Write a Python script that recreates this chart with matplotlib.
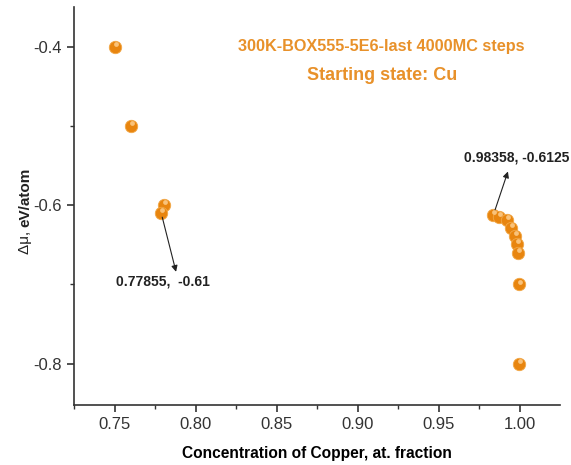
import numpy as np
import matplotlib.pyplot as plt
from matplotlib.ticker import MultipleLocator

plt.rcParams['font.family'] = ['Liberation Sans', 'DejaVu Sans']

# copper fraction vs chemical potential difference
x_cu = [0.75, 0.76, 0.7804, 0.77855,
        0.98358, 0.9873, 0.9922, 0.9948, 0.9968, 0.9980, 0.9987, 0.9993, 0.9993]
d_mu = [-0.40, -0.50, -0.60, -0.61,
        -0.6125, -0.615, -0.619, -0.629, -0.639, -0.649, -0.660, -0.70, -0.80]

title_lines = ["300K-BOX555-5E6-last 4000MC steps", "Starting state: Cu"]
note_left = (0.77855, -0.61)
note_right = (0.98358, -0.6125)

orange = '#E8850F'

fig = plt.figure(figsize=(5.71, 4.65), dpi=100)
ax = fig.add_axes([0.1296, 0.129, 0.851, 0.856])

# ball-like markers: base disc + small highlight
ax.scatter(x_cu, d_mu, s=80, color=orange, edgecolors='#F2A848',
           linewidths=0.6, zorder=3)
ax.scatter(np.array(x_cu) + 0.0006, np.array(d_mu) + 0.0035, s=12,
           color='#F9C27A', linewidths=0, zorder=4)

ax.set_xlim(0.7247, 1.0247)
ax.set_ylim(-0.852, -0.350)
ax.xaxis.set_major_locator(MultipleLocator(0.05))
ax.xaxis.set_minor_locator(MultipleLocator(0.025))
ax.yaxis.set_major_locator(MultipleLocator(0.2))
ax.yaxis.set_minor_locator(MultipleLocator(0.1))
ax.xaxis.set_major_formatter(plt.FormatStrFormatter('%.2f'))
ax.yaxis.set_major_formatter(plt.FormatStrFormatter('%.1f'))

for s in ['top', 'right']:
    ax.spines[s].set_visible(False)
for s in ['left', 'bottom']:
    ax.spines[s].set_linewidth(1.2)
    ax.spines[s].set_color('#333333')
ax.tick_params(which='major', direction='out', length=5, width=1.2,
               labelsize=12, colors='#333333', labelcolor='#333333')
ax.tick_params(which='minor', direction='out', length=3, width=1.0,
               colors='#333333')

ax.set_xlabel('Concentration of Copper, at. fraction', fontsize=11.2,
              fontweight='bold', labelpad=10)

# y label: regular symbol, bold unit
ylab_x = 25 / 571 * 5.71 / (0.851 * 5.71) - 0.1296 / 0.851
ylab_y = (405 - 227) / 398
ax.text(ylab_x, ylab_y, 'eV/atom', transform=ax.transAxes, rotation=90,
        ha='center', va='bottom', fontsize=11, fontweight='bold',
        color='#222222')
ax.text(ylab_x, ylab_y, 'Δμ, ', transform=ax.transAxes, rotation=90,
        ha='center', va='top', fontsize=11, color='#222222')

# legend-style caption
ax.text(0.9145, -0.400, title_lines[0], ha='center', va='center',
        fontsize=11.7, fontweight='bold', color='#E8912A')
ax.text(0.9148, -0.437, title_lines[1], ha='center', va='center',
        fontsize=13, fontweight='bold', color='#E8912A')

# data-point labels with arrows
arrow = dict(arrowstyle='-|>', color='#222222', lw=0.8, mutation_scale=9,
             shrinkA=3, shrinkB=0)
ax.annotate('', xy=(0.7877, -0.684), xytext=note_left, arrowprops=arrow)
ax.text(0.7796, -0.696, f'{note_left[0]},  {note_left[1]}', ha='center',
        va='center', fontsize=10, fontweight='bold', color='#222222')
ax.annotate('', xy=(0.9926, -0.5575), xytext=note_right, arrowprops=arrow)
ax.text(0.9978, -0.540, f'{note_right[0]}, {note_right[1]}', ha='center',
        va='center', fontsize=10, fontweight='bold', color='#222222')

fig.savefig('out.png', dpi=100)
